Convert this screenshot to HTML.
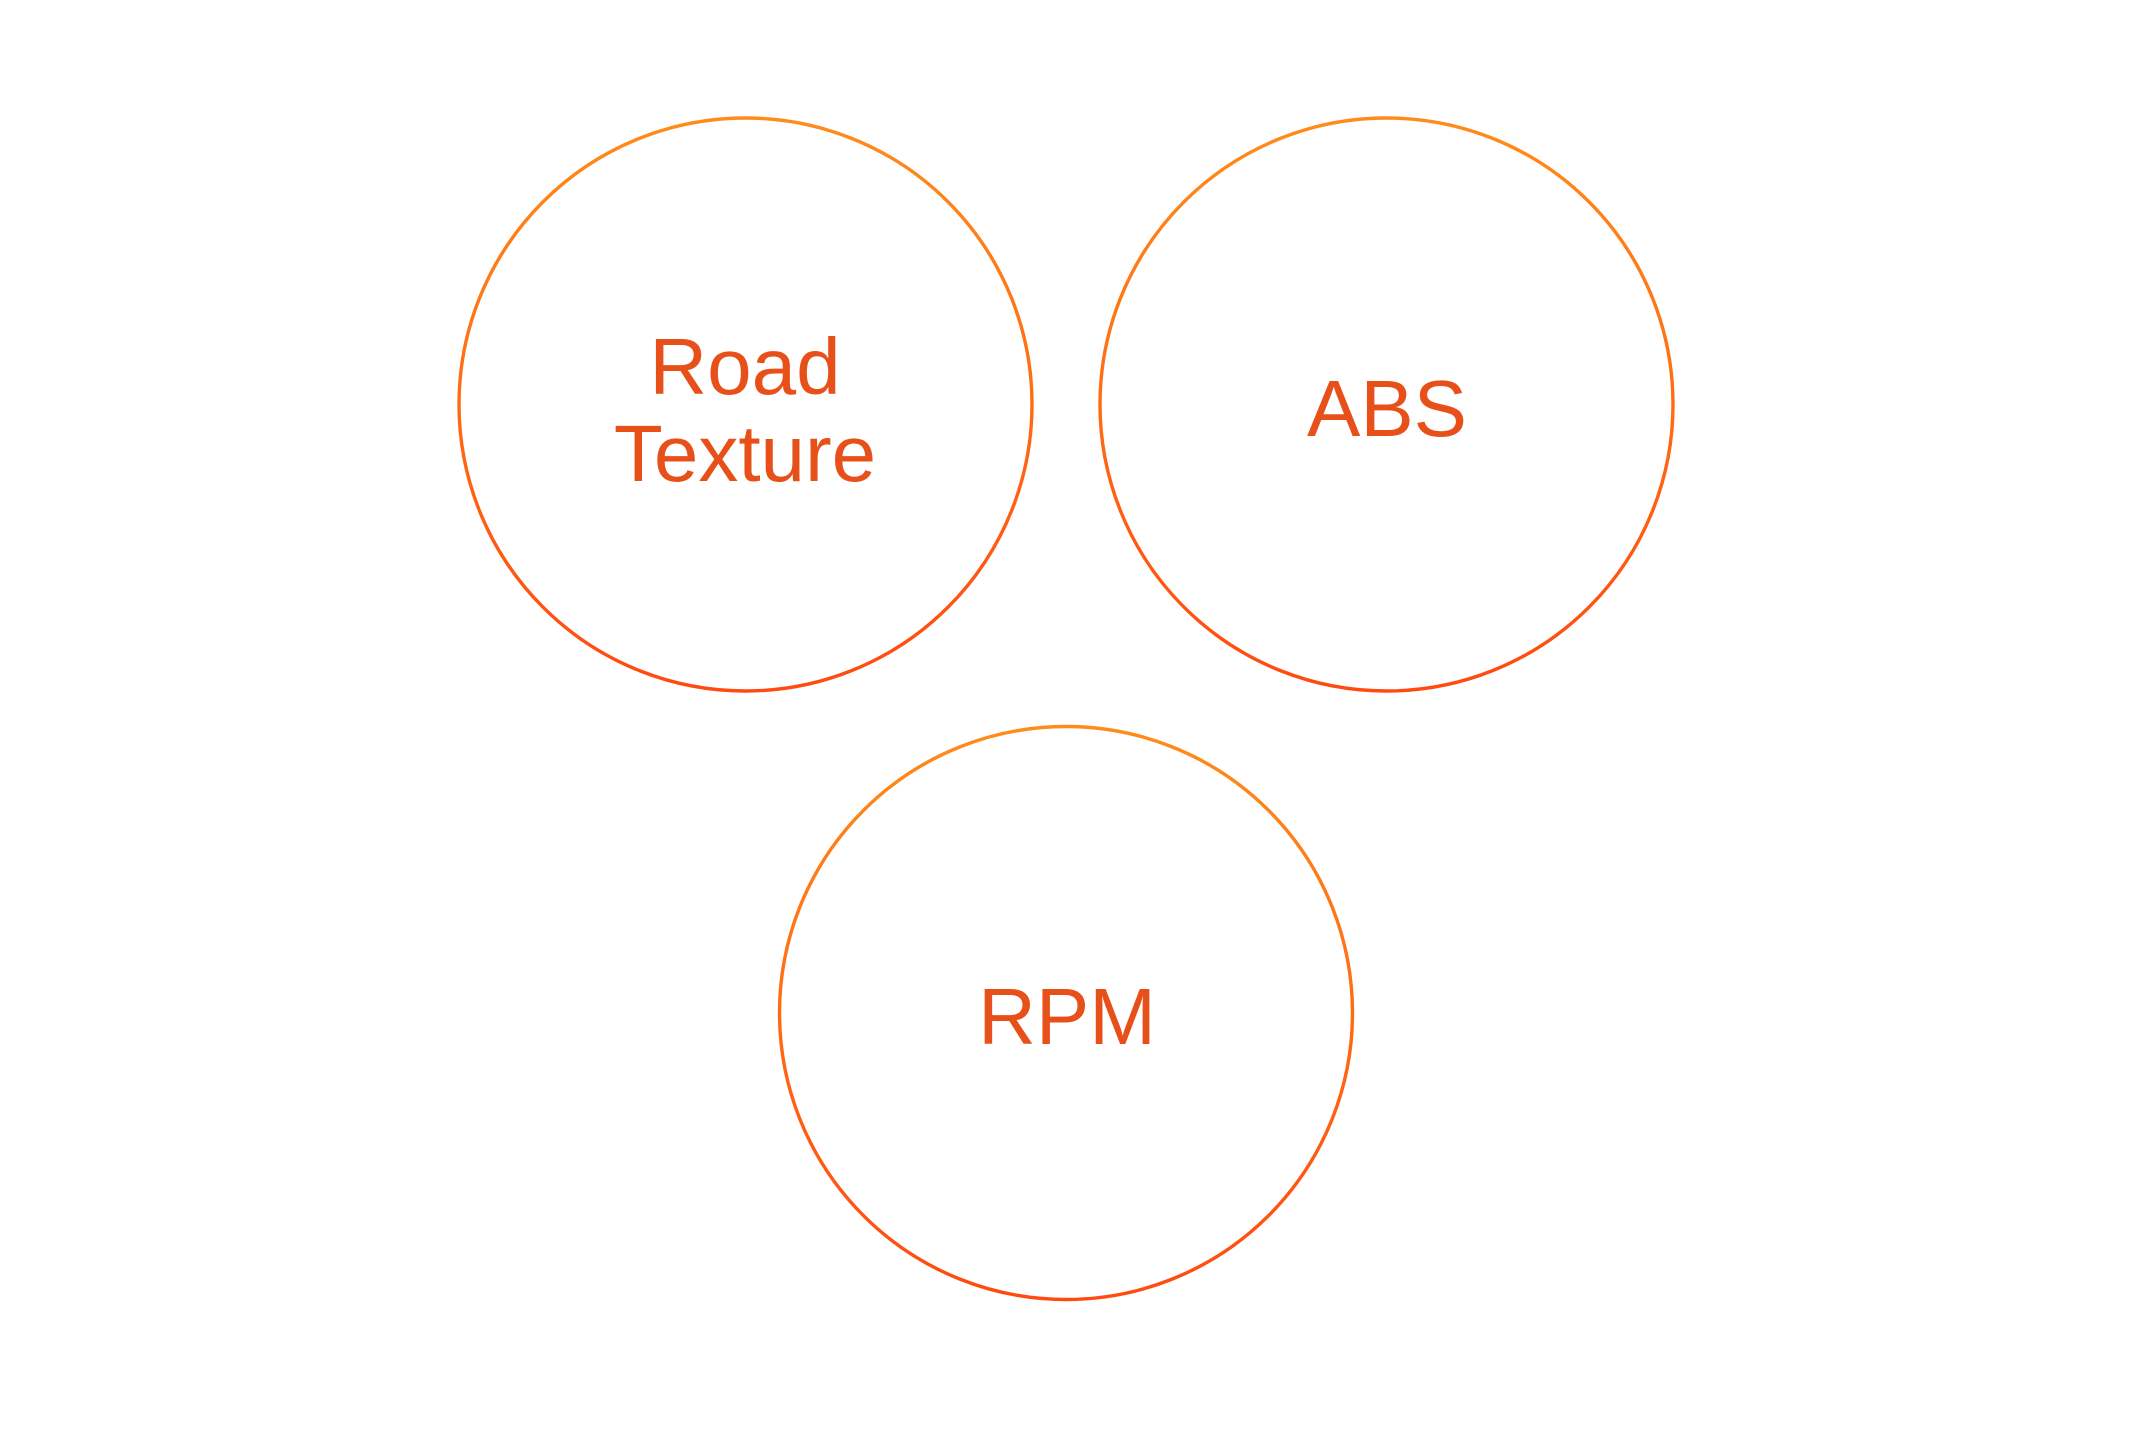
<!DOCTYPE html>
<html>
<head>
<meta charset="utf-8">
<style>
  html,body{margin:0;padding:0;background:#fff;}
  svg{display:block;}
  text{font-family:"Liberation Sans",sans-serif;fill:#e8501a;font-size:80px;text-anchor:middle;letter-spacing:0px;}
</style>
</head>
<body>
<svg width="2129" height="1450" viewBox="0 0 2129 1450" xmlns="http://www.w3.org/2000/svg">
  <defs>
    <linearGradient id="g" x1="0" y1="0" x2="0" y2="1">
      <stop offset="0" stop-color="#ff8c1a"/>
      <stop offset="1" stop-color="#ff4a10"/>
    </linearGradient>
  </defs>
  <circle cx="745.5" cy="404.5" r="286.5" fill="none" stroke="url(#g)" stroke-width="3.4"/>
  <circle cx="1386.5" cy="404.5" r="286.5" fill="none" stroke="url(#g)" stroke-width="3.4"/>
  <circle cx="1066" cy="1013" r="286.5" fill="none" stroke="url(#g)" stroke-width="3.4"/>
  <text x="745" y="394">Road</text>
  <text x="745" y="481">Texture</text>
  <text x="1387" y="436">ABS</text>
  <text x="1067" y="1044">RPM</text>
</svg>
</body>
</html>
